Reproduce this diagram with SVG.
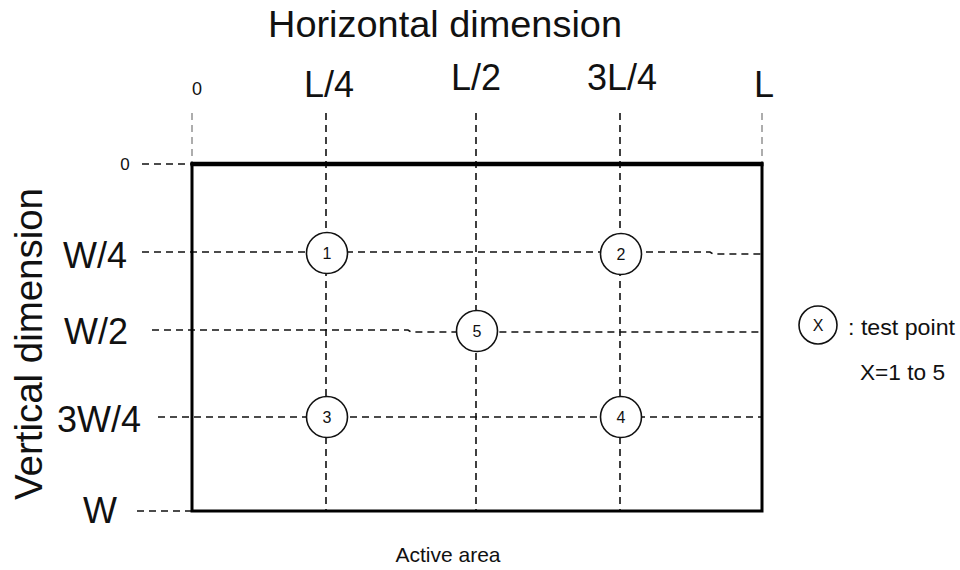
<svg xmlns="http://www.w3.org/2000/svg" width="960" height="570" viewBox="0 0 960 570">
<style>
text{font-family:"Liberation Sans",Arial,sans-serif;fill:#111}
.dash{stroke:#111;stroke-width:1.6;stroke-dasharray:7 5;fill:none}
.light{stroke:#777;stroke-width:1.2;stroke-dasharray:7 5;fill:none}
.tp{fill:#fff;stroke:#111;stroke-width:1.6}
.tpl{font-size:16px;text-anchor:middle}
.big{font-size:36px;text-anchor:middle}
</style>
<rect width="960" height="570" fill="#fff"/>
<g id="connectors">
<line class="light" x1="192" y1="113" x2="192" y2="164"/>
<line class="dash" x1="326" y1="113" x2="326" y2="511"/>
<line class="dash" x1="476" y1="113" x2="476" y2="511"/>
<line class="dash" x1="620" y1="113" x2="620" y2="511"/>
<line class="light" x1="762" y1="113" x2="762" y2="164"/>
<line class="dash" x1="142" y1="164" x2="192" y2="164"/>
<path class="dash" d="M142 252 H710 L713 254 H762"/>
<path class="dash" d="M152 330 H408 L411 332 H762"/>
<line class="dash" x1="158" y1="417" x2="762" y2="417"/>
<line class="dash" x1="137" y1="511" x2="192" y2="511"/>
</g>
<g id="active-area">
<rect x="192" y="164" width="570" height="347" fill="none" stroke="#000" stroke-width="3"/>
<line x1="190.5" y1="164" x2="763.5" y2="164" stroke="#000" stroke-width="4.5"/>
<text x="448" y="562" font-size="21" text-anchor="middle">Active area</text>
</g>
<g id="tp1"><circle class="tp" cx="327" cy="253" r="20.5"/><text class="tpl" x="327" y="259">1</text></g>
<g id="tp2"><circle class="tp" cx="621" cy="254" r="20.5"/><text class="tpl" x="621" y="260">2</text></g>
<g id="tp5"><circle class="tp" cx="477" cy="331" r="20.5"/><text class="tpl" x="477" y="337">5</text></g>
<g id="tp3"><circle class="tp" cx="327" cy="417" r="20.5"/><text class="tpl" x="327" y="423">3</text></g>
<g id="tp4"><circle class="tp" cx="621" cy="417" r="20.5"/><text class="tpl" x="621" y="423">4</text></g>
<g id="legend">
<circle class="tp" cx="818" cy="325" r="19"/>
<text class="tpl" x="818" y="331" font-size="17">X</text>
<text x="848" y="335" font-size="22" textLength="107" lengthAdjust="spacingAndGlyphs">: test point</text>
<text x="860" y="380" font-size="22" textLength="85" lengthAdjust="spacingAndGlyphs">X=1 to 5</text>
</g>
<g id="h-axis">
<text x="445" y="37" font-size="37" text-anchor="middle" textLength="354" lengthAdjust="spacingAndGlyphs">Horizontal dimension</text>
<text x="197" y="95" font-size="18" text-anchor="middle">0</text>
<text class="big" x="329" y="97">L/4</text>
<text class="big" x="476" y="90">L/2</text>
<text class="big" x="622" y="90">3L/4</text>
<text class="big" x="764" y="97">L</text>
</g>
<g id="v-axis">
<text transform="translate(42 344) rotate(-90)" x="0" y="0" font-size="38" text-anchor="middle" textLength="312" lengthAdjust="spacingAndGlyphs">Vertical dimension</text>
<text x="125" y="170" font-size="17" text-anchor="middle">0</text>
<text class="big" x="95" y="268">W/4</text>
<text class="big" x="96" y="344">W/2</text>
<text class="big" x="99" y="432">3W/4</text>
<text class="big" x="100" y="523">W</text>
</g>
</svg>
